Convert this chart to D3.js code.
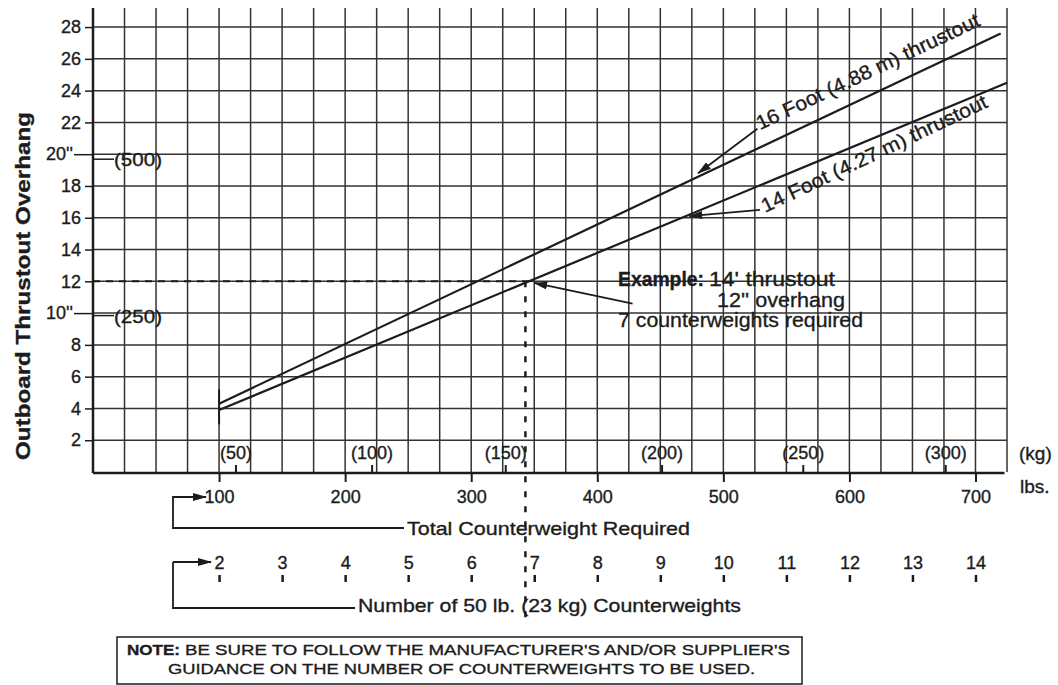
<!DOCTYPE html>
<html>
<head>
<meta charset="utf-8">
<script src="https://cdn.jsdelivr.net/npm/d3@7"></script>
<style>
    body { margin: 0; background: #fff; }
    svg text { font-family: "Liberation Sans", Arial, sans-serif; fill: #1c1c1c; stroke: #1c1c1c; stroke-width: 0.35px; }
</style>
</head>
<body>
<script>
// values
const yTicks = [2, 4, 6, 8, 10, 12, 14, 16, 18, 20, 22, 24, 26, 28];
const lbsTicks = [100, 200, 300, 400, 500, 600, 700];
const kgLabels = ["(50)", "(100)", "(150)", "(200)", "(250)", "(300)"];
const kgAtLbs = [113, 221, 327, 451, 563, 676];
const counterweights = [2, 3, 4, 5, 6, 7, 8, 9, 10, 11, 12, 13, 14];
const mmLabels = ["(250)", "(500)"];
const mmValues = [250, 500];

// thrustout lines (lbs -> inches overhang)
const lbs16 = [100, 720],
    thrust16 = [4.3, 27.6];
const lbs14 = [100, 725],
    thrust14 = [3.9, 24.5];

const exampleLbs = 343,
    exampleOverhang = 12;

const width = 1058,
    height = 685;

const ink = "#1c1c1c";

const x = d3.scaleLinear().domain([0, 725]).range([93, 1007]);
const y = d3.scaleLinear().domain([0, 29.2]).range([472, 8]);

const svg = d3.select("body")
    .append("svg")
    .attr("width", width)
    .attr("height", height);

const defs = svg.append("defs");
defs.append("marker")
    .attr("id", "arrow")
    .attr("viewBox", "0 0 14 8")
    .attr("refX", 13)
    .attr("refY", 4)
    .attr("markerWidth", 14)
    .attr("markerHeight", 8)
    .attr("markerUnits", "userSpaceOnUse")
    .attr("orient", "auto")
    .append("path")
    .attr("d", "M0,0 L14,4 L0,8 Z")
    .attr("fill", ink);

// grid
const grid = svg.append("g").attr("stroke", "#333").attr("stroke-width", 1.5);

grid.selectAll("line.v")
    .data(d3.range(25, 726, 25))
    .enter()
    .append("line")
    .attr("x1", d => x(d))
    .attr("x2", d => x(d))
    .attr("y1", y(29.2))
    .attr("y2", y(0));

grid.selectAll("line.h")
    .data(yTicks)
    .enter()
    .append("line")
    .attr("x1", x(0))
    .attr("x2", x(725))
    .attr("y1", d => y(d))
    .attr("y2", d => y(d));

// axis lines
svg.append("line")
    .attr("x1", x(0)).attr("x2", x(0))
    .attr("y1", y(29.2)).attr("y2", y(0) + 1)
    .attr("stroke", ink).attr("stroke-width", 2.5);

svg.append("line")
    .attr("x1", x(0)).attr("x2", x(723))
    .attr("y1", y(0) + 1).attr("y2", y(0) + 1)
    .attr("stroke", ink).attr("stroke-width", 2.5);

// y axis
const yAxis = d3.axisLeft(y)
    .tickValues(yTicks)
    .tickSize(8)
    .tickPadding(4)
    .tickFormat(d => (d === 10 || d === 20) ? d + "''" : d);

const gy = svg.append("g")
    .attr("transform", "translate(" + x(0) + ",0)")
    .call(yAxis);
gy.select(".domain").remove();
gy.selectAll(".tick line").attr("stroke", ink).attr("stroke-width", 1.5);
gy.selectAll(".tick text").style("font-size", "18px").attr("fill", ink);
gy.selectAll(".tick").filter(d => d === 10 || d === 20)
    .call(t => t.select("line").attr("x2", -19))
    .call(t => t.select("text").attr("x", -20));

// mm marks inside the plot
mmValues.forEach((mm, i) => {
    const yy = y(mm / 25.4);
    svg.append("line")
        .attr("x1", x(0)).attr("x2", x(0) + 21)
        .attr("y1", yy).attr("y2", yy)
        .attr("stroke", ink).attr("stroke-width", 1.5);
    svg.append("text")
        .attr("x", x(0) + 21)
        .attr("y", yy + 7)
        .attr("textLength", 48)
        .attr("lengthAdjust", "spacingAndGlyphs")
        .style("font-size", "18px")
        .text(mmLabels[i]);
});

// y label
svg.append("text")
    .attr("transform", "translate(30,286) rotate(-90)")
    .attr("text-anchor", "middle")
    .attr("textLength", 348)
    .attr("lengthAdjust", "spacingAndGlyphs")
    .style("font-size", "21px")
    .style("font-weight", "bold")
    .text("Outboard Thrustout Overhang");

// lbs axis
const lbsAxis = d3.axisBottom(x)
    .tickValues(lbsTicks)
    .tickSize(9)
    .tickPadding(8);
const gx = svg.append("g")
    .attr("transform", "translate(0," + (y(0) + 1) + ")")
    .call(lbsAxis);
gx.select(".domain").remove();
gx.selectAll(".tick line").attr("stroke", ink).attr("stroke-width", 2);
gx.selectAll(".tick text").style("font-size", "18px").attr("fill", ink);

// kg axis (ticks above the lbs axis)
const kgAxis = d3.axisTop(x)
    .tickValues(kgAtLbs)
    .tickSize(8)
    .tickPadding(6)
    .tickFormat((d, i) => kgLabels[i]);
const gk = svg.append("g")
    .attr("transform", "translate(0," + (y(0) + 1) + ")")
    .call(kgAxis);
gk.select(".domain").remove();
gk.selectAll(".tick line").attr("stroke", ink).attr("stroke-width", 2);
gk.selectAll(".tick text").style("font-size", "18px").attr("fill", ink);

svg.append("text").attr("x", 1019).attr("y", 460).style("font-size", "19px").text("(kg)");
svg.append("text").attr("x", 1020).attr("y", 493).style("font-size", "19px").text("lbs.");

// counterweight axis
const cwAxis = d3.axisTop(x)
    .tickValues(counterweights.map(n => n * 50))
    .tickSize(7)
    .tickPadding(6)
    .tickFormat(d => d / 50);
const gc = svg.append("g")
    .attr("transform", "translate(0,582)")
    .call(cwAxis);
gc.select(".domain").remove();
gc.selectAll(".tick line").attr("stroke", ink).attr("stroke-width", 2.5);
gc.selectAll(".tick text").style("font-size", "18px").attr("fill", ink);

// thrustout lines
const line = d3.line().x(d => x(d[0])).y(d => y(d[1]));

svg.append("path")
    .datum(d3.zip(lbs16, thrust16))
    .attr("d", line)
    .attr("fill", "none")
    .attr("stroke", ink)
    .attr("stroke-width", 2.2);

svg.append("path")
    .datum(d3.zip(lbs14, thrust14))
    .attr("d", line)
    .attr("fill", "none")
    .attr("stroke", ink)
    .attr("stroke-width", 2.2);

// start marker at 100 lbs
svg.append("line")
    .attr("x1", x(100)).attr("x2", x(100))
    .attr("y1", y(5.2)).attr("y2", y(3.0))
    .attr("stroke", ink).attr("stroke-width", 2);

// example dashes
svg.append("line")
    .attr("x1", x(0)).attr("x2", x(exampleLbs + 3))
    .attr("y1", y(exampleOverhang)).attr("y2", y(exampleOverhang))
    .attr("stroke", ink).attr("stroke-width", 2)
    .attr("stroke-dasharray", "7,6");

svg.append("line")
    .attr("x1", x(exampleLbs)).attr("x2", x(exampleLbs))
    .attr("y1", y(exampleOverhang)).attr("y2", 622)
    .attr("stroke", ink).attr("stroke-width", 2.5)
    .attr("stroke-dasharray", "6,9");

// annotations
function arrow(from, to) {
    svg.append("line")
        .attr("x1", x(from[0])).attr("y1", y(from[1]))
        .attr("x2", x(to[0])).attr("y2", y(to[1]))
        .attr("stroke", ink).attr("stroke-width", 1.8)
        .attr("marker-end", "url(#arrow)");
}

arrow([527, 21.6], [480, 18.8]);
arrow([529, 16.5], [473, 16.1]);
arrow([428, 10.6], [350, 11.9]);

svg.append("text")
    .attr("transform", "translate(" + x(529) + "," + y(21.5) + ") rotate(-25.4)")
    .attr("textLength", 245)
    .attr("lengthAdjust", "spacingAndGlyphs")
    .style("font-size", "20px")
    .text("16 Foot (4.88 m) thrustout");

svg.append("text")
    .attr("transform", "translate(" + x(533) + "," + y(16.3) + ") rotate(-25.4)")
    .attr("textLength", 248)
    .attr("lengthAdjust", "spacingAndGlyphs")
    .style("font-size", "20px")
    .text("14 Foot (4.27 m) thrustout");

const ex = svg.append("g").style("font-size", "20px");
ex.append("text").attr("x", 618).attr("y", 286)
    .attr("textLength", 86).attr("lengthAdjust", "spacingAndGlyphs")
    .style("font-weight", "bold").text("Example:");
ex.append("text").attr("x", 709).attr("y", 286)
    .attr("textLength", 126).attr("lengthAdjust", "spacingAndGlyphs")
    .text("14' thrustout");
ex.append("text").attr("x", 717).attr("y", 307)
    .attr("textLength", 128).attr("lengthAdjust", "spacingAndGlyphs")
    .text("12'' overhang");
ex.append("text").attr("x", 618).attr("y", 327)
    .attr("textLength", 245).attr("lengthAdjust", "spacingAndGlyphs")
    .text("7 counterweights required");

// brackets
const br = svg.append("g")
    .attr("fill", "none").attr("stroke", ink).attr("stroke-width", 1.8);
br.append("path").attr("d", "M205,497 H173 V528 H404");
br.append("line").attr("x1", 173).attr("y1", 497).attr("x2", 206).attr("y2", 497)
    .attr("marker-end", "url(#arrow)");
br.append("path").attr("d", "M173,562 V608 H355");
br.append("line").attr("x1", 173).attr("y1", 562).attr("x2", 211).attr("y2", 562)
    .attr("marker-end", "url(#arrow)");

svg.append("text").attr("x", 407).attr("y", 535)
    .attr("textLength", 283).attr("lengthAdjust", "spacingAndGlyphs")
    .style("font-size", "19px")
    .text("Total Counterweight Required");

svg.append("text").attr("x", 358).attr("y", 612)
    .attr("textLength", 383).attr("lengthAdjust", "spacingAndGlyphs")
    .style("font-size", "19px")
    .text("Number of 50 lb. (23 kg) Counterweights");

// note box
svg.append("rect")
    .attr("x", 117).attr("y", 637)
    .attr("width", 685).attr("height", 47)
    .attr("fill", "none").attr("stroke", ink).attr("stroke-width", 1.5);

const note = svg.append("g")
    .style("font-family", "'Liberation Sans Narrow', 'Liberation Sans', Arial, sans-serif")
    .style("font-size", "15px");
note.append("text").attr("x", 127).attr("y", 655)
    .attr("textLength", 53).attr("lengthAdjust", "spacingAndGlyphs")
    .style("font-weight", "bold").text("NOTE:");
note.append("text").attr("x", 185).attr("y", 655)
    .attr("textLength", 605).attr("lengthAdjust", "spacingAndGlyphs")
    .text("BE SURE TO FOLLOW THE MANUFACTURER'S AND/OR SUPPLIER'S");
note.append("text").attr("x", 168).attr("y", 674)
    .attr("textLength", 587).attr("lengthAdjust", "spacingAndGlyphs")
    .text("GUIDANCE ON THE NUMBER OF COUNTERWEIGHTS TO BE USED.");
</script>
</body>
</html>
